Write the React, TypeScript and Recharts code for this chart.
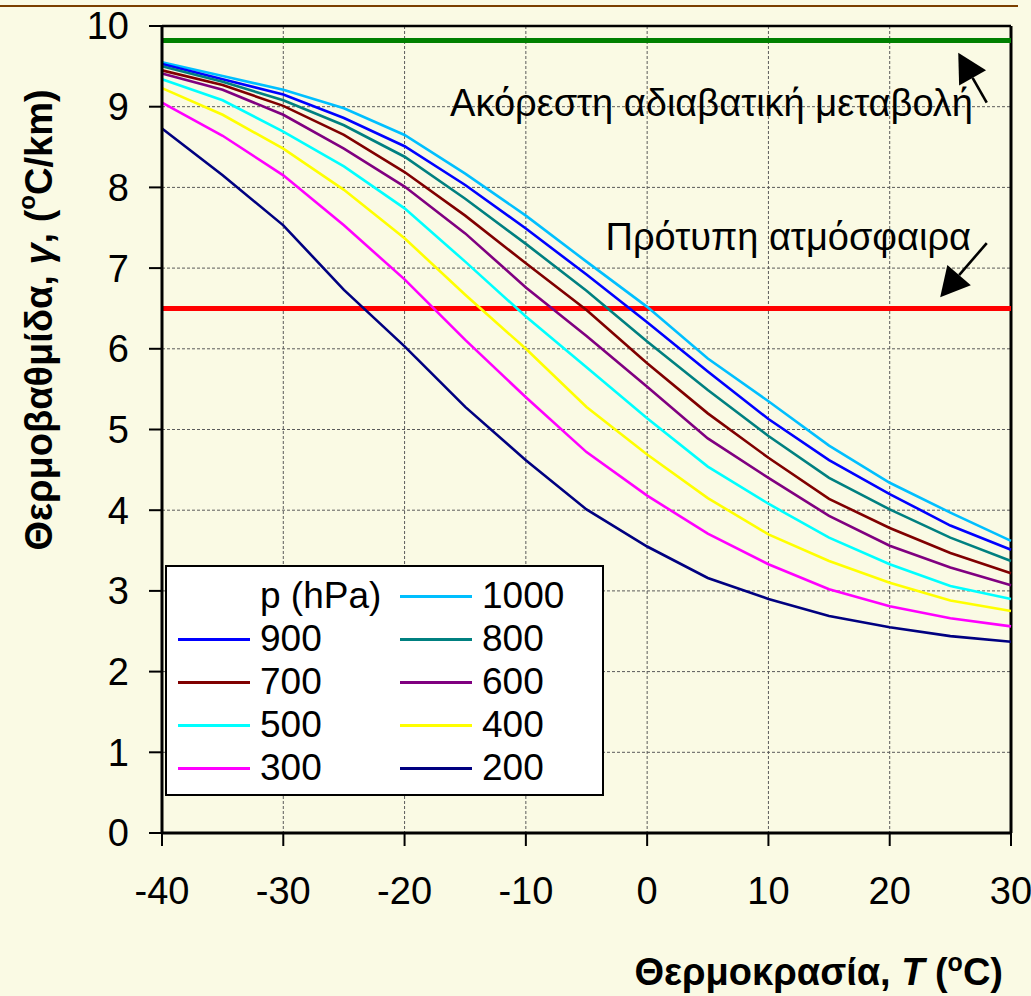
import React from 'react';
import { LineChart, Line, XAxis, YAxis, CartesianGrid, ReferenceLine, Legend } from 'recharts';

// ---------- data ----------
const temperatures = [-40, -35, -30, -25, -20, -15, -10, -5, 0, 5, 10, 15, 20, 25, 30];
const pressureLevels = ['1000', '900', '800', '700', '600', '500', '400', '300', '200'];

const lapse1000 = [9.55, 9.38, 9.21, 8.98, 8.65, 8.17, 7.65, 7.08, 6.52, 5.88, 5.35, 4.8, 4.34, 3.97, 3.62];
const lapse900 = [9.53, 9.34, 9.15, 8.86, 8.51, 8.03, 7.49, 6.92, 6.33, 5.72, 5.13, 4.62, 4.2, 3.81, 3.51];
const lapse800 = [9.5, 9.31, 9.08, 8.77, 8.38, 7.86, 7.3, 6.72, 6.09, 5.49, 4.92, 4.4, 4.01, 3.66, 3.37];
const lapse700 = [9.45, 9.27, 9.01, 8.65, 8.19, 7.65, 7.06, 6.48, 5.82, 5.2, 4.65, 4.14, 3.78, 3.47, 3.22];
const lapse600 = [9.41, 9.21, 8.9, 8.48, 8.01, 7.43, 6.76, 6.16, 5.53, 4.89, 4.4, 3.93, 3.56, 3.29, 3.07];
const lapse500 = [9.34, 9.08, 8.69, 8.26, 7.74, 7.08, 6.4, 5.77, 5.14, 4.54, 4.08, 3.66, 3.33, 3.06, 2.9];
const lapse400 = [9.23, 8.9, 8.48, 7.97, 7.37, 6.67, 6.0, 5.28, 4.69, 4.15, 3.7, 3.37, 3.1, 2.88, 2.75];
const lapse300 = [9.05, 8.64, 8.15, 7.53, 6.86, 6.11, 5.4, 4.72, 4.18, 3.71, 3.33, 3.02, 2.81, 2.66, 2.56];
const lapse200 = [8.73, 8.15, 7.53, 6.73, 6.03, 5.28, 4.62, 4.01, 3.55, 3.16, 2.9, 2.69, 2.55, 2.44, 2.37];

const seriesValues = [lapse1000, lapse900, lapse800, lapse700, lapse600, lapse500, lapse400, lapse300, lapse200];
const seriesColors = ['#00BFFF', '#0000FF', '#008080', '#800000', '#800080', '#00FFFF', '#FFFF00', '#FF00FF', '#000080'];

const xTicks = [-40, -30, -20, -10, 0, 10, 20, 30];
const yTicks = [0, 1, 2, 3, 4, 5, 6, 7, 8, 9, 10];

const dryAdiabaticRate = 9.82;
const standardAtmosphereRate = 6.5;
const dryLabel = 'Ακόρεστη αδιαβατική μεταβολή';
const standardLabel = 'Πρότυπη ατμόσφαιρα';
const legendTitle = 'p (hPa)';

const dryArrow = [{ x: 28.0, y: 9.05 }, { x: 25.65, y: 9.67 }];
const standardArrow = [{ x: 28.0, y: 7.31 }, { x: 24.16, y: 6.64 }];

const chartData = temperatures.map((T, i) => {
  const row: Record<string, number> = { T };
  pressureLevels.forEach((p, k) => {
    row['p' + p] = seriesValues[k][i];
  });
  return row;
});

// ---------- styles ----------
const FONT = '"Liberation Sans", Arial, Helvetica, sans-serif';
const BG = '#FAFAE4';

const ArrowShape = (props: any) => {
  const { x1, y1, x2, y2 } = props;
  const dx = x2 - x1;
  const dy = y2 - y1;
  const len = Math.hypot(dx, dy) || 1;
  const ux = dx / len;
  const uy = dy / len;
  const headLen = 29;
  const halfW = 15.5;
  const bx = x2 - ux * headLen;
  const by = y2 - uy * headLen;
  const px = -uy;
  const py = ux;
  return (
    <g>
      <line x1={x1} y1={y1} x2={bx} y2={by} stroke="#000" strokeWidth={2.6} />
      <polygon
        points={`${x2},${y2} ${bx + px * halfW},${by + py * halfW} ${bx - px * halfW},${by - py * halfW}`}
        fill="#000"
      />
    </g>
  );
};

const LegendBox = (props: any) => {
  const payload: any[] = props.payload || [];
  const entries = pressureLevels.map((p, k) => {
    const found = payload.find((it) => String(it.value) === p);
    return { label: p, color: found ? found.color : seriesColors[k] };
  });
  const cells: { label: string; color: string | null }[] = [{ label: legendTitle, color: null }, ...entries];
  return (
    <div
      style={{
        position: 'relative',
        width: 439,
        height: 231,
        boxSizing: 'border-box',
        border: '2.5px solid #000',
        background: '#FFFFFF',
        fontFamily: FONT,
        fontSize: 37,
        color: '#000',
      }}
    >
      {cells.map((c, i) => {
        const col = i % 2;
        const row = Math.floor(i / 2);
        const cy = 29 + row * 43;
        const lineX = col === 0 ? 11 : 233;
        const textX = col === 0 ? 93 : 315;
        return (
          <React.Fragment key={i}>
            {c.color && (
              <div
                style={{
                  position: 'absolute',
                  left: lineX,
                  top: cy - 1.5,
                  width: 72,
                  height: 3,
                  background: c.color,
                }}
              />
            )}
            <div
              style={{
                position: 'absolute',
                left: textX,
                top: cy - 20,
                height: 40,
                lineHeight: '40px',
                whiteSpace: 'nowrap',
              }}
            >
              {c.label}
            </div>
          </React.Fragment>
        );
      })}
    </div>
  );
};

const YTitle = () => (
  <text
    transform="translate(39,320) rotate(-90)"
    textAnchor="middle"
    dominantBaseline="central"
    fontFamily={FONT}
    fontWeight="bold"
    fontSize={38}
    fill="#000"
  >
    Θερμοβαθμίδα,{' '}
    <tspan fontStyle="italic">γ</tspan>
    , (
    <tspan dy={-13} fontSize={24}>o</tspan>
    <tspan dy={13}>C/km)</tspan>
  </text>
);

const XTitle = () => (
  <text x={1003} y={985} textAnchor="end" fontFamily={FONT} fontWeight="bold" fontSize={38} fill="#000">
    Θερμοκρασία, <tspan fontStyle="italic">T</tspan> (
    <tspan dy={-14} fontSize={25}>o</tspan>
    <tspan dy={14}>C)</tspan>
  </text>
);

const DryText = (props: any) => {
  const vb = props.viewBox || { x: 0, y: 0, width: 0 };
  return (
    <text x={vb.x + vb.width - 38} y={vb.y + 75} textAnchor="end" fontFamily={FONT} fontSize={38} fill="#000">
      {dryLabel}
    </text>
  );
};

const StandardText = (props: any) => {
  const vb = props.viewBox || { x: 0, y: 0, width: 0 };
  return (
    <text x={vb.x + vb.width - 40} y={vb.y - 58} textAnchor="end" fontFamily={FONT} fontSize={38} fill="#000">
      {standardLabel}
    </text>
  );
};

export default function App() {
  return (
    <div
      style={{
        position: 'absolute',
        left: 0,
        top: 0,
        width: 1031,
        height: 996,
        background: BG,
        overflow: 'hidden',
      }}
    >
      <div style={{ position: 'absolute', left: 0, top: 5, width: 1018, height: 2, background: '#7B3F00' }} />
      <LineChart
        width={1031}
        height={996}
        data={chartData}
        margin={{ top: 26, right: 20, left: 62, bottom: 103 }}
      >
        <CartesianGrid stroke="#5a5a5a" strokeDasharray="3 2" strokeWidth={1} />
        <XAxis
          dataKey="T"
          type="number"
          domain={[-40, 30]}
          ticks={xTicks}
          interval={0}
          height={60}
          axisLine={{ stroke: '#000', strokeWidth: 3 }}
          tickLine={{ stroke: '#000', strokeWidth: 2 }}
          tickSize={13}
          tickMargin={31}
          tick={{ fill: '#000', fontSize: 38, fontFamily: FONT }}
          label={{ content: () => <XTitle /> }}
        />
        <YAxis
          type="number"
          domain={[0, 10]}
          ticks={yTicks}
          interval={0}
          width={100}
          axisLine={{ stroke: '#000', strokeWidth: 3 }}
          tickLine={{ stroke: '#000', strokeWidth: 2 }}
          tickSize={13}
          tickMargin={20}
          tick={{ fill: '#000', fontSize: 38, fontFamily: FONT }}
          label={{ content: () => <YTitle /> }}
        />
        <ReferenceLine y={10} stroke="#000" strokeWidth={2.5} ifOverflow="visible" />
        <ReferenceLine x={30} stroke="#000" strokeWidth={3} ifOverflow="visible" />
        <ReferenceLine
          y={dryAdiabaticRate}
          stroke="#008000"
          strokeWidth={5}
          label={{ content: (p: any) => <DryText {...p} /> }}
        />
        <ReferenceLine
          y={standardAtmosphereRate}
          stroke="#FF0000"
          strokeWidth={5}
          label={{ content: (p: any) => <StandardText {...p} /> }}
        />
        {pressureLevels.map((p, k) => (
          <Line
            key={p}
            type="linear"
            dataKey={'p' + p}
            name={p}
            stroke={seriesColors[k]}
            strokeWidth={2.6}
            dot={false}
            activeDot={false}
            isAnimationActive={false}
          />
        ))}
        <ReferenceLine segment={dryArrow} shape={(p: any) => <ArrowShape {...p} />} ifOverflow="visible" />
        <ReferenceLine segment={standardArrow} shape={(p: any) => <ArrowShape {...p} />} ifOverflow="visible" />
        <Legend
          layout="horizontal"
          verticalAlign="middle"
          align="center"
          wrapperStyle={{ left: 165, top: 565, width: 439, height: 231 }}
          content={(p: any) => <LegendBox {...p} />}
        />
      </LineChart>
    </div>
  );
}
